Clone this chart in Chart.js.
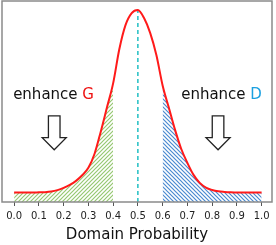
<!DOCTYPE html>
<html><head><meta charset="utf-8">
<script src="https://cdn.jsdelivr.net/npm/chart.js@4"></script>
<style>html,body{margin:0;padding:0;background:#fff}#wrap{width:276px;height:245px}</style>
</head><body><div id="wrap"><canvas id="c" width="276" height="245"></canvas></div>
<script>
const xValues = [0.000,0.025,0.050,0.075,0.100,0.125,0.150,0.175,0.200,0.225,0.250,0.275,0.300,0.325,0.350,0.375,0.400,0.425,0.450,0.475,0.500,0.525,0.550,0.575,0.600,0.625,0.650,0.675,0.700,0.725,0.750,0.775,0.800,0.825,0.850,0.875,0.900,0.925,0.950,0.975,1.000];
const density = [0.047,0.047,0.047,0.047,0.048,0.049,0.052,0.059,0.070,0.085,0.105,0.133,0.170,0.240,0.350,0.470,0.590,0.760,0.880,0.940,0.955,0.915,0.840,0.730,0.580,0.470,0.360,0.265,0.195,0.135,0.095,0.072,0.060,0.053,0.050,0.048,0.047,0.047,0.047,0.047,0.047];
const regionG = [0.0, 0.4];
const regionD = [0.6, 1.0];
const centerX = 0.5;
const tickValues = [0.0,0.1,0.2,0.3,0.4,0.5,0.6,0.7,0.8,0.9,1.0];
const tickLabels = ["0.0","0.1","0.2","0.3","0.4","0.5","0.6","0.7","0.8","0.9","1.0"];
const xTitle = "Domain Probability";
const labelG = ["enhance ", "G"];
const labelD = ["enhance ", "D"];

const pts = xValues.map((x,i)=>({x:x,y:density[i]}));
const inRange = r => pts.filter(p => p.x >= r[0]-1e-9 && p.x <= r[1]+1e-9);
const peak = Math.max(...density);

function hatch(color, dir){
  const s = 4, c = document.createElement('canvas');
  c.width = s; c.height = s;
  const g = c.getContext('2d');
  g.fillStyle = '#fff'; g.fillRect(0,0,s,s);
  g.strokeStyle = color; g.lineWidth = 1.2;
  g.beginPath();
  if (dir > 0){ g.moveTo(-1,s+1); g.lineTo(s+1,-1); g.moveTo(-1,1); g.lineTo(1,-1); g.moveTo(s-1,s+1); g.lineTo(s+1,s-1); }
  else { g.moveTo(-1,-1); g.lineTo(s+1,s+1); g.moveTo(s-1,-1); g.lineTo(s+1,1); g.moveTo(-1,s-1); g.lineTo(1,s+1); }
  g.stroke();
  return document.getElementById('c').getContext('2d').createPattern(c,'repeat');
}

const decor = {
  id:'decor',
  afterDraw(chart){
    const {ctx, chartArea:a, scales:{x,y}} = chart;
    ctx.save();
    ctx.strokeStyle = '#8a8a8a'; ctx.lineWidth = 1.5;
    ctx.strokeRect(a.left, a.top, a.right-a.left, a.bottom-a.top);
    ctx.font = '15px "DejaVu Sans"';
    ctx.textBaseline = 'middle';
    const drawLabel = (parts, xv, yv, col) => {
      let px = x.getPixelForValue(xv), py = y.getPixelForValue(yv);
      ctx.fillStyle = '#111'; ctx.fillText(parts[0], px, py);
      px += ctx.measureText(parts[0]).width;
      ctx.fillStyle = col; ctx.fillText(parts[1], px, py);
    };
    drawLabel(labelG, -0.004, 0.53, '#ee1111');
    drawLabel(labelD, 0.675, 0.53, '#1aa0e0');
    const arrow = (xv) => {
      const cx = x.getPixelForValue(xv);
      const top = y.getPixelForValue(0.428), bot = y.getPixelForValue(0.26), neck = y.getPixelForValue(0.32);
      const sw = 5.8, hw = 12;
      ctx.beginPath();
      ctx.moveTo(cx-sw, top); ctx.lineTo(cx+sw, top); ctx.lineTo(cx+sw, neck);
      ctx.lineTo(cx+hw, neck); ctx.lineTo(cx, bot); ctx.lineTo(cx-hw, neck);
      ctx.lineTo(cx-sw, neck); ctx.closePath();
      ctx.strokeStyle = '#222'; ctx.lineWidth = 1.3; ctx.stroke();
    };
    arrow(0.162); arrow(0.824);
    ctx.restore();
  }
};

new Chart(document.getElementById('c'), {
  type:'line',
  data:{datasets:[
    {data:inRange(regionG), borderWidth:0, pointRadius:0, fill:'origin', backgroundColor:hatch('#96c872',1), cubicInterpolationMode:'monotone', order:3},
    {data:inRange(regionD), borderWidth:0, pointRadius:0, fill:'origin', backgroundColor:hatch('#4a8ad0',-1), cubicInterpolationMode:'monotone', order:3},
    {data:[{x:centerX,y:0},{x:centerX,y:peak}], borderColor:'#22bfc4', borderWidth:1.5, borderDash:[4,3], pointRadius:0, fill:false, order:2},
    {data:pts, borderColor:'#ff1a1a', borderWidth:2, pointRadius:0, fill:false, cubicInterpolationMode:'monotone', order:1}
  ]},
  plugins:[decor],
  options:{
    responsive:false, animation:false, devicePixelRatio:1,
    layout:{padding:{left:2,right:4,top:1,bottom:0}},
    plugins:{legend:{display:false}, tooltip:{enabled:false}},
    scales:{
      x:{type:'linear', min:-0.049, max:1.042,
        afterBuildTicks(s){ s.ticks = tickValues.map(v=>({value:v})); },
        afterFit(s){ s.height = 43; },
        grid:{drawOnChartArea:false, drawTicks:true, tickLength:4, color:'#555'},
        border:{display:false},
        ticks:{font:{family:'DejaVu Sans', size:10}, color:'#222', padding:4, maxRotation:0, autoSkip:false,
          callback:(v,i)=>tickLabels[i]},
        title:{display:true, text:xTitle, font:{family:'DejaVu Sans', size:15}, color:'#111', padding:{top:0,bottom:1}}
      },
      y:{display:false, min:0, max:1}
    }
  }
});
</script></body></html>
